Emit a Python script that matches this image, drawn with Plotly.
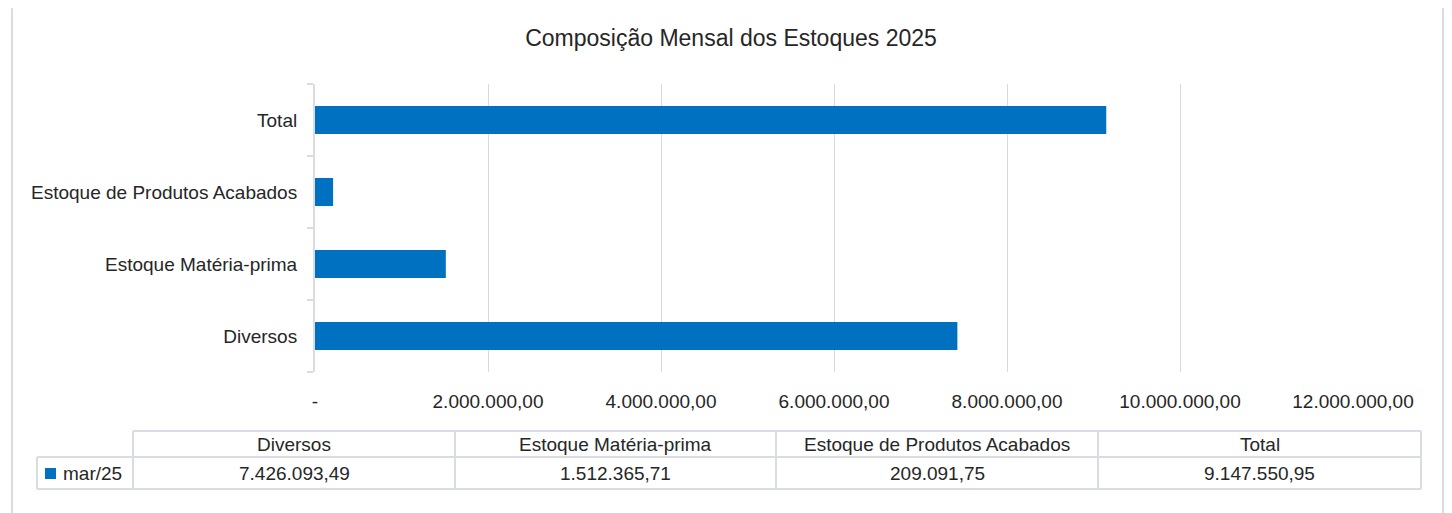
import plotly.graph_objects as go

categories = ["Diversos", "Estoque Matéria-prima", "Estoque de Produtos Acabados", "Total"]
values = [7426093.49, 1512365.71, 209091.75, 9147550.95]
series_name = "mar/25"
x_tickvals = [0, 2000000, 4000000, 6000000, 8000000, 10000000, 12000000]
x_ticktext = ["-", "2.000.000,00", "4.000.000,00", "6.000.000,00", "8.000.000,00", "10.000.000,00", "12.000.000,00"]
title = "Composição Mensal dos Estoques 2025"

BAR = "#0070C0"
GRID = "#d9d9d9"
TBL = "#d9dde3"
TXT = "#262626"
FONT = "Liberation Sans"
FS = 19

def fmt_br(v):
    s = f"{v:,.2f}"
    return s.replace(",", "X").replace(".", ",").replace("X", ".")

OFF = 8  # page body margin
W, H = 1452, 513
L, R, T, B = 315 - OFF, 1353 - OFF, 84 - OFF, 372 - OFF
pw, ph = R - L, B - T

def px(x):
    return (x - OFF - L) / pw

def py(y):
    return (B - (y - OFF)) / ph

fig = go.Figure()
fig.add_trace(go.Bar(
    y=categories, x=values, orientation="h", name=series_name,
    marker=dict(color=BAR, line=dict(width=0)), showlegend=False,
))

shapes = []
annotations = []
shapes.append(dict(type="rect", xref="paper", yref="paper",
                   x0=px(12), x1=px(1443), y0=py(530), y1=py(5),
                   line=dict(color=TBL, width=2), layer="below"))

col_edges = [133, 455, 776, 1098, 1421]
y_top, y_mid, y_bot = 431, 457, 489
legend_left = 37
lw = 2
shapes.append(dict(type="line", xref="paper", yref="paper", x0=px(col_edges[0]), x1=px(col_edges[-1]),
                   y0=py(y_top), y1=py(y_top), line=dict(color=TBL, width=lw)))
shapes.append(dict(type="line", xref="paper", yref="paper", x0=px(legend_left), x1=px(col_edges[-1]),
                   y0=py(y_mid), y1=py(y_mid), line=dict(color=TBL, width=lw)))
shapes.append(dict(type="line", xref="paper", yref="paper", x0=px(legend_left), x1=px(col_edges[-1]),
                   y0=py(y_bot), y1=py(y_bot), line=dict(color=TBL, width=lw)))
for xe in col_edges:
    shapes.append(dict(type="line", xref="paper", yref="paper", x0=px(xe), x1=px(xe),
                       y0=py(y_top), y1=py(y_bot), line=dict(color=TBL, width=lw)))
shapes.append(dict(type="line", xref="paper", yref="paper", x0=px(legend_left), x1=px(legend_left),
                   y0=py(y_mid), y1=py(y_bot), line=dict(color=TBL, width=lw)))
shapes.append(dict(type="rect", xref="paper", yref="paper", x0=px(45), x1=px(56),
                   y0=py(479), y1=py(468), fillcolor=BAR, line=dict(width=0)))
annotations.append(dict(xref="paper", yref="paper", x=px(61), y=py(473), text=series_name,
                        showarrow=False, xanchor="left", yanchor="middle",
                        font=dict(family=FONT, size=FS, color=TXT)))
for i, (c, v) in enumerate(zip(categories, values)):
    cx = (col_edges[i] + col_edges[i + 1]) / 2
    annotations.append(dict(xref="paper", yref="paper", x=px(cx), y=py(444), text=c,
                            showarrow=False, xanchor="center", yanchor="middle",
                            font=dict(family=FONT, size=FS, color=TXT)))
    annotations.append(dict(xref="paper", yref="paper", x=px(cx), y=py(473), text=fmt_br(v),
                            showarrow=False, xanchor="center", yanchor="middle",
                            font=dict(family=FONT, size=FS, color=TXT)))

fig.update_layout(
    width=W, height=H,
    margin=dict(l=L, r=W - R, t=T, b=H - B, pad=0),
    paper_bgcolor="white", plot_bgcolor="white",
    title=dict(text=title, x=px(731), xref="paper", xanchor="center", y=1 - (38 - OFF) / H, yanchor="middle",
               font=dict(family=FONT, size=23, color=TXT)),
    bargap=0.61,
    shapes=shapes, annotations=annotations,
    font=dict(family=FONT, size=FS, color=TXT),
)
fig.update_xaxes(range=[0, 12000000], tickvals=x_tickvals, ticktext=x_ticktext,
                 showgrid=True, gridcolor=GRID, gridwidth=1, zeroline=False,
                 showline=False, ticks="", ticklabelstandoff=16,
                 tickfont=dict(family=FONT, size=FS, color=TXT))
fig.update_yaxes(type="category", categoryorder="array", categoryarray=categories,
                 showgrid=False, showline=True, linecolor=TBL, linewidth=2,
                 ticks="outside", tickson="boundaries", ticklen=6, tickcolor=TBL, tickwidth=2,
                 ticklabelstandoff=12, tickfont=dict(family=FONT, size=FS, color=TXT))

fig.write_html("out.html")
